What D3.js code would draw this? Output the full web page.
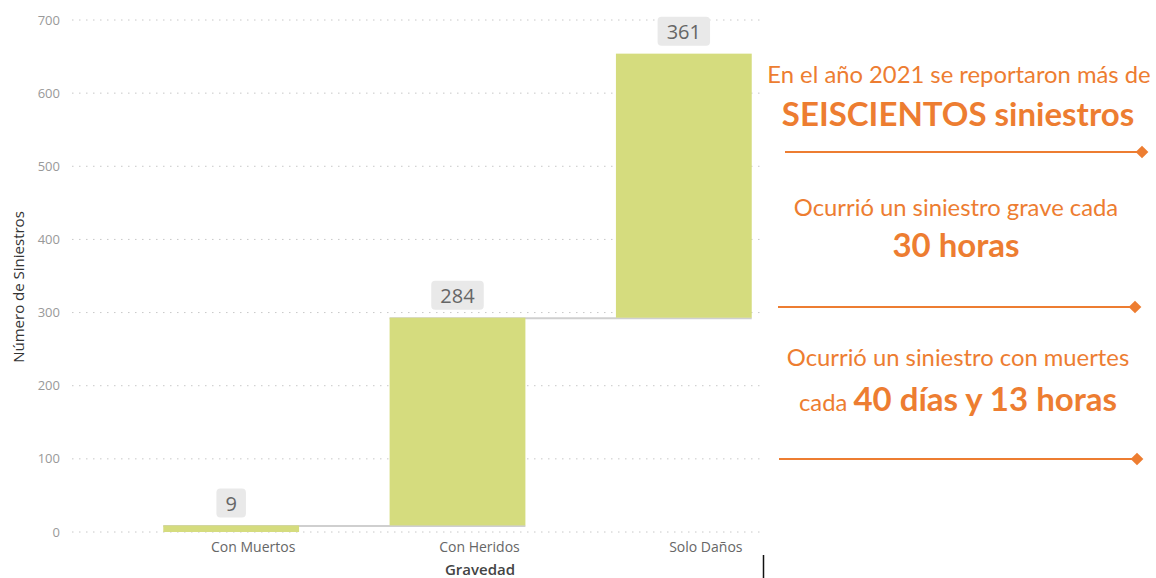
<!DOCTYPE html>
<html lang="es">
<head>
<meta charset="utf-8">
<title>Siniestros 2021</title>
<script src="https://cdn.jsdelivr.net/npm/d3@7"></script>
<style>
  body { margin: 0; background: #fff; }
  svg { display: block; }
</style>
</head>
<body>
<div id="chart"></div>
<script>
// datos
var categories = ["Con Muertos", "Con Heridos", "Solo Daños"];
var values = [9, 284, 361];
var yTicks = [0, 100, 200, 300, 400, 500, 600, 700];

var W = 1156, H = 578;
var svg = d3.select('#chart').append('svg').attr('width', W).attr('height', H);

var y = d3.scaleLinear().domain([0, 700]).range([532, 20]);
var x = d3.scaleBand().domain(categories).range([118, 797]).paddingInner(0.4).paddingOuter(0.2);

// acumulado para la cascada
var cum = 0;
var steps = values.map(function (v, i) {
  var s = { cat: categories[i], v: v, start: cum, end: cum + v };
  cum += v;
  return s;
});

// rejilla
svg.append('g').selectAll('line').data(yTicks).join('line')
  .attr('x1', 72).attr('x2', 760)
  .attr('y1', function (d) { return y(d); }).attr('y2', function (d) { return y(d); })
  .attr('stroke', '#c8c8c8').attr('stroke-width', 1)
  .attr('stroke-dasharray', '1.5,5.5');

svg.append('g').selectAll('text').data(yTicks).join('text')
  .attr('x', 60).attr('y', function (d) { return y(d); })
  .attr('dy', '0.35em').attr('text-anchor', 'end')
  .style('font-family', 'Open Sans').style('font-size', '13px').style('fill', '#999')
  .text(function (d) { return d; });

svg.append('text')
  .attr('transform', 'translate(24,' + 287 + ') rotate(-90)')
  .attr('text-anchor', 'middle')
  .style('font-family', 'Open Sans').style('font-size', '15px').style('fill', '#333')
  .text('Número de Siniestros');

// conectores
svg.append('g').selectAll('line').data(steps.slice(0, -1)).join('line')
  .attr('x1', function (d) { return x(d.cat); })
  .attr('x2', function (d, i) { return x(categories[i + 1]) + x.bandwidth(); })
  .attr('y1', function (d) { return y(d.end) + 0.5; })
  .attr('y2', function (d) { return y(d.end) + 0.5; })
  .attr('stroke', '#cfcfcf').attr('stroke-width', 2);

// barras
svg.append('g').selectAll('rect').data(steps).join('rect')
  .attr('x', function (d) { return x(d.cat); })
  .attr('width', x.bandwidth())
  .attr('y', function (d) { return y(d.end); })
  .attr('height', function (d) { return y(d.start) - y(d.end); })
  .attr('fill', '#d5dc7e');

// etiquetas de valor
var lab = svg.append('g').selectAll('g').data(steps).join('g')
  .attr('transform', function (d) {
    return 'translate(' + (x(d.cat) + x.bandwidth() / 2) + ',' + (y(d.end) - 22) + ')';
  });
lab.append('rect')
  .attr('x', function (d) { return -(String(d.v).length * 11.5 + 18) / 2; })
  .attr('y', -15)
  .attr('width', function (d) { return String(d.v).length * 11.5 + 18; })
  .attr('height', 29).attr('rx', 4)
  .attr('fill', '#e9e9e9');
lab.append('text')
  .attr('text-anchor', 'middle').attr('dy', '0.36em')
  .style('font-family', 'Open Sans').style('font-size', '20px').style('fill', '#666')
  .text(function (d) { return d.v; });

// eje x
svg.append('g').selectAll('text').data(categories).join('text')
  .attr('x', function (d) { return x(d) + x.bandwidth() / 2 + 22; })
  .attr('y', 552).attr('text-anchor', 'middle')
  .style('font-family', 'Open Sans').style('font-size', '14px').style('fill', '#666')
  .text(function (d) { return d; });

svg.append('text')
  .attr('x', 480).attr('y', 575).attr('text-anchor', 'middle')
  .style('font-family', 'Open Sans').style('font-size', '15px').style('font-weight', 600).style('fill', '#444')
  .text('Gravedad');

svg.append('line').attr('x1', 763.5).attr('x2', 763.5).attr('y1', 555).attr('y2', 578)
  .attr('stroke', '#111').attr('stroke-width', 1.5);

// textos a la derecha
var orange = '#ed7d31';
function txt(xp, yp, size, weight, s) {
  return svg.append('text').attr('x', xp).attr('y', yp).attr('text-anchor', 'middle')
    .style('font-family', 'Lato').style('font-size', size + 'px').style('font-weight', weight)
    .style('fill', orange).text(s);
}
txt(959, 83, 23.8, 400, 'En el año 2021 se reportaron más de');
txt(958, 126, 33, 700, 'SEISCIENTOS siniestros');
txt(956, 216, 23.8, 400, 'Ocurrió un siniestro grave cada');
txt(956, 257, 33, 700, '30 horas');
txt(958, 366, 23.8, 400, 'Ocurrió un siniestro con muertes');
var t = svg.append('text').attr('x', 958).attr('y', 411).attr('text-anchor', 'middle')
  .style('font-family', 'Lato').style('fill', orange);
t.append('tspan').style('font-size', '23.8px').text('cada ');
t.append('tspan').style('font-size', '33px').style('font-weight', 700).text('40 días y 13 horas');

function rule(x1, x2, yp) {
  svg.append('line').attr('x1', x1).attr('x2', x2).attr('y1', yp).attr('y2', yp)
    .attr('stroke', orange).attr('stroke-width', 2);
  svg.append('rect').attr('x', -4.5).attr('y', -4.5).attr('width', 9).attr('height', 9)
    .attr('transform', 'translate(' + x2 + ',' + yp + ') rotate(45)')
    .attr('fill', orange);
}
rule(785, 1142, 152);
rule(778, 1135, 307);
rule(779, 1137, 459);
</script>
</body>
</html>
